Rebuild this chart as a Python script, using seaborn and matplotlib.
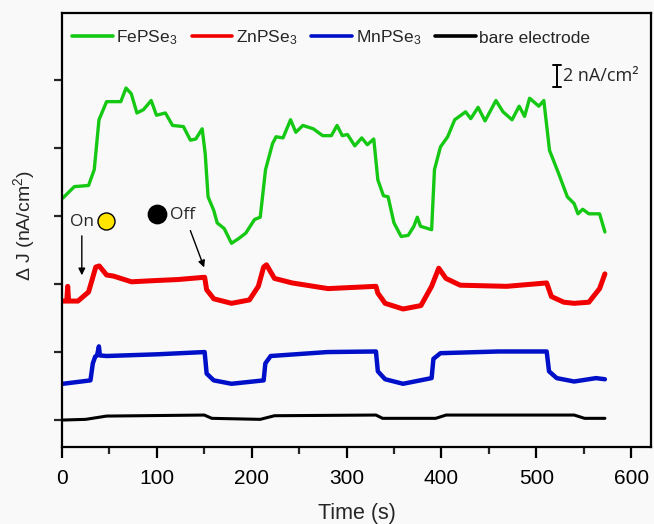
import matplotlib
matplotlib.use("Agg")
import matplotlib.pyplot as plt
import seaborn as sns
import pandas as pd
from matplotlib.lines import Line2D

# ---- data ----
green_t = [1,13,28,34,39,47,54,62,67.5,73,79,86,94,99.6,109,116.6,128,135.4,141,147.8,151,154,160,163.6,171,178.7,186,193.8,203,209,214.6,222,225.7,233,241,246.5,254,265,274.8,284,290,295.5,301,308.7,316,321.9,328.7,333,338.9,343.8,350,357.6,365,371,374.6,378,389.7,392.7,399,406.6,414,425.5,431,438.7,446,457.5,465,474.5,482,487.7,493,502.7,508,514,523.4,532.8,540,544,549,555.5,566.8,572.4]
green_v = [19.6,20.6,20.7,22.1,26.5,28.1,28.1,28.1,29.3,28.8,27.1,27.4,28.2,26.9,27.1,26.0,25.9,24.7,24.8,25.7,23.5,19.7,18.5,17.4,16.9,15.6,16.0,16.5,17.7,17.9,22.1,24.4,25.0,24.9,26.5,25.4,26.0,25.7,25.1,25.1,26.0,25.1,25.2,24.2,24.9,24.3,24.8,21.2,19.8,19.7,17.4,16.2,16.3,17.1,17.9,17.1,16.8,22.1,24.1,25.0,26.5,27.2,26.6,27.6,26.4,28.2,27.2,26.5,27.7,26.8,28.4,27.7,28.2,23.8,21.8,19.7,19.1,18.2,18.6,18.2,18.2,16.6]

red_t = [1,5,6,7,16.8,28,35.6,39.3,47,54.5,73.2,96,122,150.4,152.5,160,178.7,197.6,207,212.6,215.6,224,242.6,280.5,331,333,340.7,359.6,378.4,389.7,397.2,404.8,419.8,468.8,511,516,529,540,555.5,566.8,572.4]
red_v = [10.5,10.5,11.8,10.5,10.5,11.3,13.5,13.6,12.8,12.7,12.2,12.3,12.4,12.6,11.5,10.7,10.3,10.6,11.8,13.5,13.7,12.5,12.1,11.6,11.8,11.2,10.3,9.8,10.1,11.8,13.4,12.5,11.9,11.8,12.1,10.9,10.4,10.3,10.4,11.6,12.9]

blue_t = [1,30,32.5,35,37,38.9,40,47,100,150.4,152.5,160,178.7,212.6,214.4,220,280,331,333,340.7,359.6,389.7,391.6,399,460,511,513.5,521.6,540,563,572.4]
blue_v = [3.2,3.5,5.0,5.6,5.7,6.5,5.7,5.65,5.8,6.0,4.1,3.5,3.2,3.5,5.0,5.65,6.0,6.05,4.3,3.6,3.2,3.7,5.4,5.9,6.05,6.05,4.3,3.7,3.4,3.7,3.6]

bare_t = [1,25,47,150,158,209,224,331,338,394,405,540,551,572.4]
bare_v = [0.0,0.06,0.35,0.44,0.15,0.06,0.38,0.44,0.15,0.15,0.44,0.44,0.15,0.15]

labels = ["FePSe$_3$", "ZnPSe$_3$", "MnPSe$_3$", "bare electrode"]
colors = ["#14c814", "#f00000", "#0010c8", "#000000"]
widths = [2.4, 3.6, 3.2, 2.2]
x_ticks = [0, 100, 200, 300, 400, 500, 600]

# ---- style ----
sns.set_theme(style="ticks")
bg = "#f9f9f9"
plt.rcParams["font.family"] = ["Liberation Sans", "DejaVu Sans"]
plt.rcParams["mathtext.fontset"] = "custom"
plt.rcParams["mathtext.rm"] = "Liberation Sans"
plt.rcParams["mathtext.it"] = "Liberation Sans:italic"

fig = plt.figure(figsize=(6.54, 5.24), dpi=100, facecolor=bg)
ax = fig.add_axes([62/654, 1-447/524, 589/654, (447-12.7)/524])
ax.set_facecolor(bg)

series = [(green_t, green_v), (red_t, red_v), (blue_t, blue_v), (bare_t, bare_v)]
handles = []
for (t, v), lab, c, w in zip(series, labels, colors, widths):
    df = pd.DataFrame({"t": t, "v": v})
    sns.lineplot(data=df, x="t", y="v", ax=ax, color=c, linewidth=w,
                 estimator=None, sort=False)
    handles.append(Line2D([], [], color=c, linewidth=2.6))

ax.set_xlim(0, 621)
ax.set_ylim(-2.38, 35.95)
ax.set_xticks(x_ticks)
ax.set_xticks([50, 150, 250, 350, 450, 550], minor=True)
ax.set_yticks([0, 6, 12, 18, 24, 30])
ax.set_yticklabels([])
ax.tick_params(axis="x", which="major", direction="out", length=8, width=1.6,
               labelsize=15, pad=8, color="black", labelcolor="black")
ax.tick_params(axis="x", which="minor", direction="out", length=5, width=1.6)
ax.tick_params(axis="y", direction="out", length=6, width=1.6)
for s in ax.spines.values():
    s.set_visible(True)
    s.set_linewidth(1.6)
    s.set_color("black")

ax.set_xlabel("Time (s)", fontsize=15.5)
ax.xaxis.set_label_coords(0.5008, -0.128)
ax.set_ylabel("Δ J (nA/cm$^2$)", fontsize=14)
ax.yaxis.set_label_coords(-0.043, 0.511)

leg = ax.legend(handles, labels, loc="center left", bbox_to_anchor=(0.017, 0.942),
                ncol=4, frameon=False, fontsize=12.5, handlelength=2.35,
                handletextpad=0.2, columnspacing=0.8, borderpad=0, borderaxespad=0)

# scale bar 2 nA/cm^2
sx = 522
ax.plot([sx, sx], [29.36, 31.36], color="black", lw=1.4)
ax.plot([sx-4, sx+4], [29.36, 29.36], color="black", lw=1.4)
ax.plot([sx-4, sx+4], [31.36, 31.36], color="black", lw=1.4)
ax.text(sx + 6, 30.36, "2 nA/cm²", fontsize=13, family=["Open Sans", "DejaVu Sans"],
        va="center", ha="left")

# On / Off annotations
ax.text(20.6, 17.5, "On", fontsize=12.5, family=["Open Sans", "DejaVu Sans"],
        ha="center", va="center")
ax.scatter([46.1], [17.56], s=150, color="#ffe400", edgecolor="black", linewidth=1.0, zorder=5)
ax.scatter([99.9], [18.2], s=175, color="black", zorder=5)
ax.text(127, 18.1, "Off", fontsize=12.5, family=["Open Sans", "DejaVu Sans"],
        ha="center", va="center")
ax.annotate("", xy=(20.9, 12.53), xytext=(20.9, 16.5),
            arrowprops=dict(arrowstyle="-|>", color="black", lw=1.0, mutation_scale=10))
ax.annotate("", xy=(150.9, 13.24), xytext=(134.3, 16.95),
            arrowprops=dict(arrowstyle="-|>", color="black", lw=1.0, mutation_scale=10))

fig.savefig("out.png", dpi=100, facecolor=bg)
